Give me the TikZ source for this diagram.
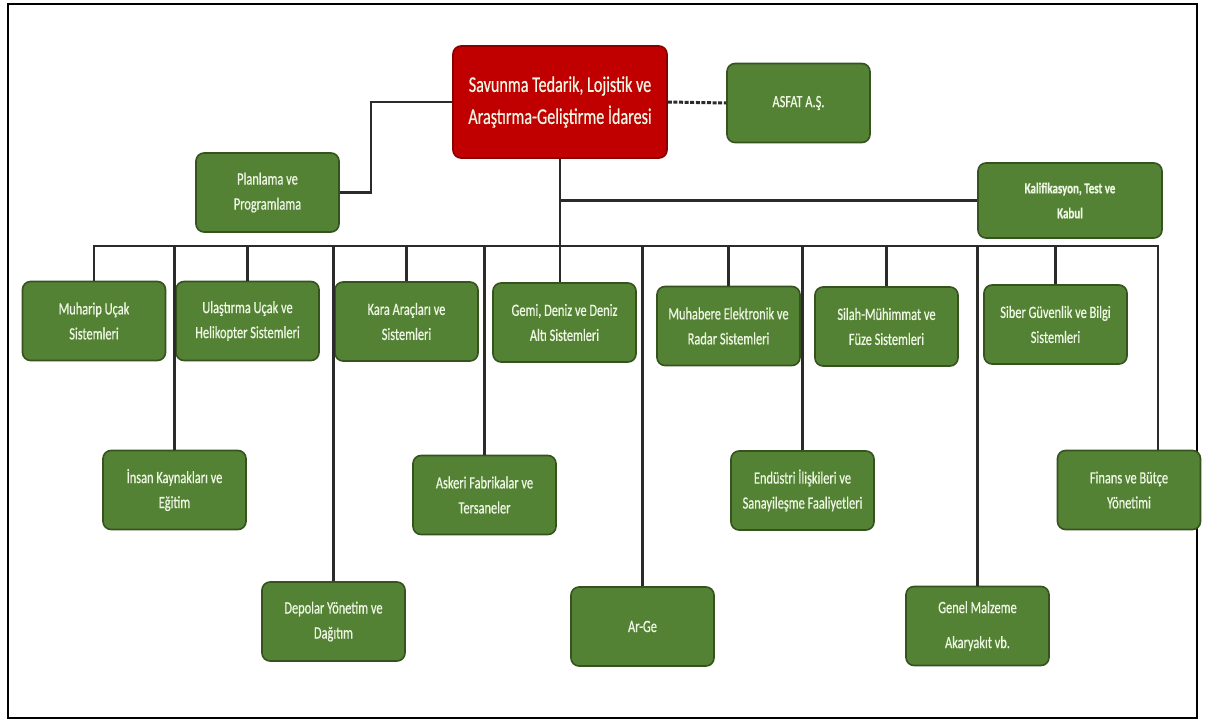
\documentclass[tikz,border=0pt]{standalone}
\usepackage{fontspec}
\setmainfont[FakeStretch=0.72]{Carlito}
\newfontfamily\unitfont[FakeStretch=0.72,FakeBold=0.6]{Carlito}
\definecolor{unitgreen}{HTML}{548235}
\definecolor{unitborder}{HTML}{36521F}
\definecolor{unittext}{HTML}{EEF6E4}
\definecolor{headred}{HTML}{C00000}
\definecolor{headborder}{HTML}{8A0000}
\definecolor{linkgray}{HTML}{2B2B2B}

\begin{document}
\begin{tikzpicture}[x=0.5pt,y=-0.5pt,
    unit/.style={draw=unitborder,line width=0.8pt,fill=unitgreen,rounded corners=4pt,
        text=unittext,align=center,minimum width=71.5pt,minimum height=39.5pt,
        font=\unitfont\fontsize{8.6}{12.5}\selectfont},
    link/.style={draw=linkgray,line width=1.1pt}]
    	        % Frame
    	        \useasboundingbox (0,0) rectangle (1205,724);
    	        \draw[line width=1pt] (8,4) rectangle (1197,718);
    	        % Head
    	        \node[unit,fill=headred,draw=headborder,minimum width=107pt,minimum height=56pt,
    	            font=\unitfont\fontsize{11.2}{16}\selectfont] (main) at (560,102)
    	            {Savunma Tedarik, Lojistik ve\\Araştırma-Geliştirme İdaresi};
    	        \node[unit] (asfat) at (798.5,103) {ASFAT A.Ş.};
    	        \node[unit] (planlama) at (267.5,192.5) {Planlama ve\\Programlama};
    	        \node[unit,minimum width=92pt,minimum height=37.5pt,
    	            font=\unitfont\bfseries\fontsize{7.6}{12.5}\selectfont] (kalif) at (1070,200.5)
    	            {Kalifikasyon, Test ve\\Kabul};
    	        % Upper row
    	        \node[unit] (muharip) at (94,321) {Muharip Uçak\\Sistemleri};
    	        \node[unit] (ulastirma) at (247.5,321) {Ulaştırma Uçak ve\\Helikopter Sistemleri};
    	        \node[unit] (kara) at (406.5,321.5) {Kara Araçları ve\\Sistemleri};
    	        \node[unit] (gemi) at (564.5,322.5) {Gemi, Deniz ve Deniz\\Altı Sistemleri};
    	        \node[unit] (muhabere) at (728.5,326) {Muhabere Elektronik ve\\Radar Sistemleri};
    	        \node[unit] (silah) at (886.5,326.5) {Silah-Mühimmat ve\\Füze Sistemleri};
    	        \node[unit] (siber) at (1055.5,324.5) {Siber Güvenlik ve Bilgi\\Sistemleri};
    	        % Middle row
    	        \node[unit] (insan) at (174.5,490) {İnsan Kaynakları ve\\Eğitim};
    	        \node[unit] (askeri) at (484.5,495) {Askeri Fabrikalar ve\\Tersaneler};
    	        \node[unit] (endustri) at (802.5,490.5) {Endüstri İlişkileri ve\\Sanayileşme Faaliyetleri};
    	        \node[unit] (finans) at (1129,490) {Finans ve Bütçe\\Yönetimi};
    	        % Lower row
    	        \node[unit] (depolar) at (333.5,621.5) {Depolar Yönetim ve\\Dağıtım};
    	        \node[unit] (arge) at (642.5,626.5) {Ar-Ge};
    	        \node[unit,font=\unitfont\fontsize{8.6}{17.5}\selectfont] (genel) at (977.5,626) {Genel Malzeme\\Akaryakıt vb.};
    	        % Links to head
    	        \coordinate (busR) at (1158,246);
    	        \draw[link,line width=1.5pt,dash pattern=on 2pt off 0.8pt] (main.east) -- (asfat.west);
    	        \draw[link] (main.west) -- ++(-81,0) |- (planlama.east);
    	        \draw[link] (main.south) -- (main.south |- gemi.north);
    	        \draw[link] (main.south |- kalif.west) -- (kalif.west);
    	        % Bus
    	        \draw[link,line width=1.3pt] (muharip.north) |- (busR) -- (busR |- finans.north);
    	        \foreach \u in {ulastirma,kara,muhabere,silah,siber,insan,depolar,askeri,arge,endustri,genel}
    	            \draw[link] (\u.north) -- (\u.north |- busR);
\end{tikzpicture}
\end{document}
